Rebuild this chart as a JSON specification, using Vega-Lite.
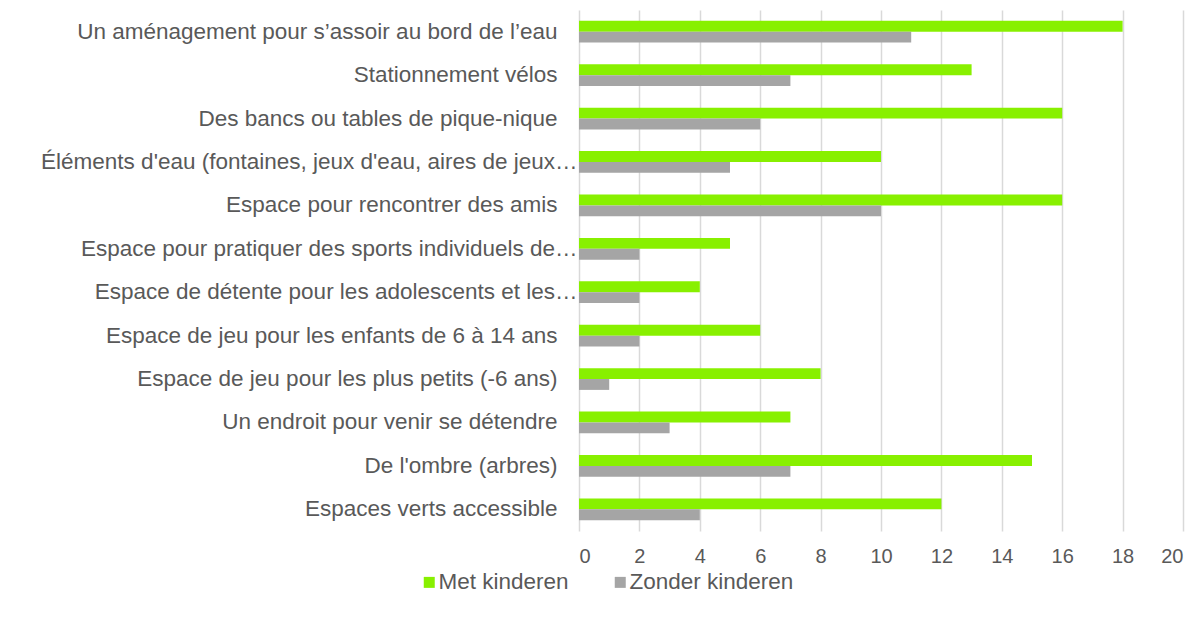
{
  "$schema": "https://vega.github.io/schema/vega-lite/v6.json",
  "autosize": {"type": "none"},
  "padding": {"left": 579, "top": 10, "right": 15, "bottom": 88},
  "width": 604,
  "height": 521,
  "background": "white",
  "config": {
    "view": {"stroke": null},
    "font": "Liberation Sans",
    "text": {"font": "Liberation Sans"}
  },
  "data": {
    "values": [
      {"cat": "Un aménagement pour s’assoir au bord de l’eau", "group": "Met kinderen", "value": 18},
      {"cat": "Un aménagement pour s’assoir au bord de l’eau", "group": "Zonder kinderen", "value": 11},
      {"cat": "Stationnement vélos", "group": "Met kinderen", "value": 13},
      {"cat": "Stationnement vélos", "group": "Zonder kinderen", "value": 7},
      {"cat": "Des bancs ou tables de pique-nique", "group": "Met kinderen", "value": 16},
      {"cat": "Des bancs ou tables de pique-nique", "group": "Zonder kinderen", "value": 6},
      {"cat": "Éléments d'eau (fontaines, jeux d'eau, aires de jeux…", "group": "Met kinderen", "value": 10},
      {"cat": "Éléments d'eau (fontaines, jeux d'eau, aires de jeux…", "group": "Zonder kinderen", "value": 5},
      {"cat": "Espace pour rencontrer des amis", "group": "Met kinderen", "value": 16},
      {"cat": "Espace pour rencontrer des amis", "group": "Zonder kinderen", "value": 10},
      {"cat": "Espace pour pratiquer des sports individuels de…", "group": "Met kinderen", "value": 5},
      {"cat": "Espace pour pratiquer des sports individuels de…", "group": "Zonder kinderen", "value": 2},
      {"cat": "Espace de détente pour les adolescents et les…", "group": "Met kinderen", "value": 4},
      {"cat": "Espace de détente pour les adolescents et les…", "group": "Zonder kinderen", "value": 2},
      {"cat": "Espace de jeu pour les enfants de 6 à 14 ans", "group": "Met kinderen", "value": 6},
      {"cat": "Espace de jeu pour les enfants de 6 à 14 ans", "group": "Zonder kinderen", "value": 2},
      {"cat": "Espace de jeu pour les plus petits (-6 ans)", "group": "Met kinderen", "value": 8},
      {"cat": "Espace de jeu pour les plus petits (-6 ans)", "group": "Zonder kinderen", "value": 1},
      {"cat": "Un endroit pour venir se détendre", "group": "Met kinderen", "value": 7},
      {"cat": "Un endroit pour venir se détendre", "group": "Zonder kinderen", "value": 3},
      {"cat": "De l'ombre (arbres)", "group": "Met kinderen", "value": 15},
      {"cat": "De l'ombre (arbres)", "group": "Zonder kinderen", "value": 7},
      {"cat": "Espaces verts accessible", "group": "Met kinderen", "value": 12},
      {"cat": "Espaces verts accessible", "group": "Zonder kinderen", "value": 4}
    ]
  },
  "mark": {"type": "bar"},
  "encoding": {
    "y": {
      "field": "cat",
      "type": "nominal",
      "sort": null,
      "scale": {"paddingInner": 0.5, "paddingOuter": 0.25},
      "axis": {
        "title": null,
        "domain": false,
        "ticks": false,
        "labelFontSize": 22.5,
        "labelColor": "#595959",
        "labelPadding": {"condition": {"test": "indexof(datum.label, '…') >= 0", "value": 2}, "value": 22},
        "labelLimit": 0
      }
    },
    "yOffset": {"field": "group", "type": "nominal", "sort": ["Met kinderen", "Zonder kinderen"]},
    "x": {
      "field": "value",
      "type": "quantitative",
      "scale": {"domain": [0, 20], "nice": false},
      "axis": {
        "title": null,
        "domain": false,
        "ticks": false,
        "values": [0, 2, 4, 6, 8, 10, 12, 14, 16, 18, 20],
        "labelFontSize": 20,
        "labelColor": "#595959",
        "labelPadding": 15,
        "gridColor": "#D9D9D9",
        "gridWidth": 1.5
      }
    },
    "color": {
      "field": "group",
      "type": "nominal",
      "scale": {"domain": ["Met kinderen", "Zonder kinderen"], "range": ["#88F000", "#A5A5A5"]},
      "legend": {
        "title": null,
        "orient": "none",
        "direction": "horizontal",
        "legendX": -161,
        "legendY": 561,
        "symbolType": "square",
        "symbolSize": 121,
        "symbolStrokeWidth": 0,
        "labelFontSize": 22.5,
        "labelColor": "#595959",
        "labelOffset": -2,
        "labelLimit": 0,
        "columnPadding": 40
      }
    }
  }
}
